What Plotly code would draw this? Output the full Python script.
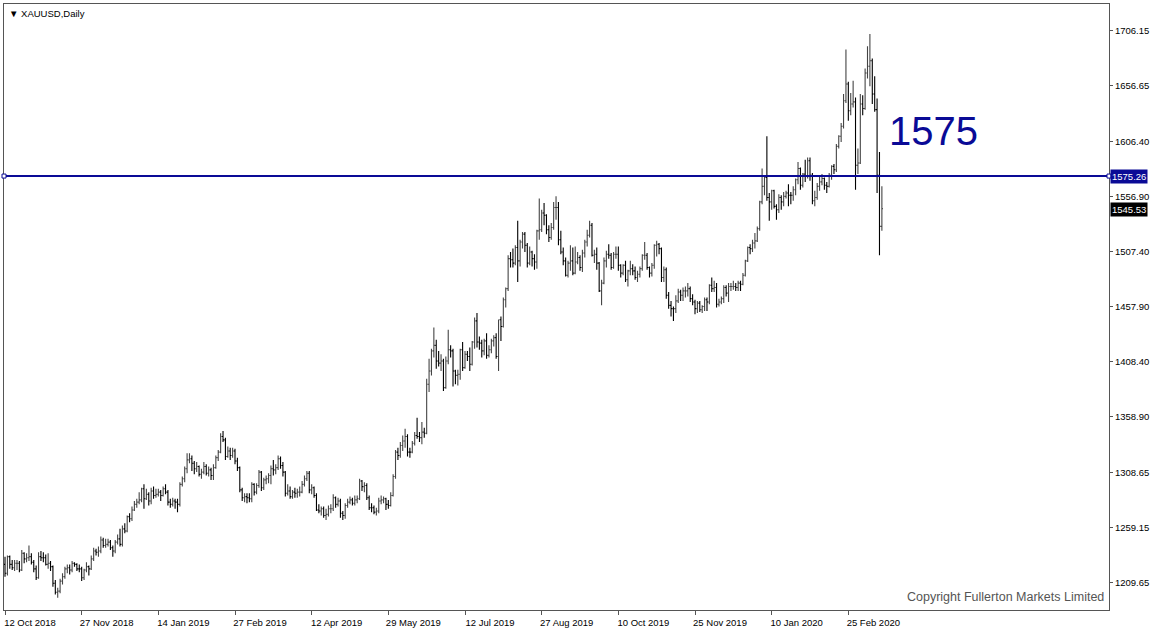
import pandas as pd
import plotly.graph_objects as go

# XAUUSD daily bars, 12 Oct 2018 .. 16 Mar 2020 (no bars on these holidays)
holidays = ["2018-12-25", "2019-01-01", "2019-04-19", "2019-12-25", "2020-01-01"]

open_ = [
    1226, 1218, 1233, 1226, 1223, 1227, 1227, 1221, 1236, 1231, 1232, 1233, 1228, 1222,
    1214, 1233, 1232, 1232, 1226, 1227, 1224, 1209, 1201, 1202, 1211, 1215, 1222, 1223, 1221, 1227, 1226, 1222, 1222, 1214, 1221, 1224,
    1222, 1231, 1238, 1237, 1238, 1248, 1243, 1244, 1246, 1241, 1238, 1246, 1249, 1244, 1258, 1256, 1269, 1267, 1275, 1280,
    1282, 1284, 1294, 1285, 1289, 1283, 1292, 1288, 1289, 1291, 1288, 1294, 1291, 1282, 1280, 1283, 1282, 1280, 1298, 1303, 1312, 1320,
    1321, 1317, 1312, 1314, 1307, 1309, 1314, 1308, 1311, 1306, 1313, 1322, 1327, 1341, 1338, 1323, 1328, 1324, 1328, 1319,
    1313, 1293, 1286, 1287, 1286, 1285, 1298, 1291, 1297, 1309, 1295, 1302, 1303, 1306, 1312, 1311, 1313, 1321, 1315, 1309, 1290,
    1292, 1287, 1291, 1290, 1291, 1291, 1298, 1303, 1308, 1293, 1295, 1288, 1275, 1274, 1276, 1270, 1271, 1276, 1276, 1286, 1280,
    1283, 1272, 1270, 1279, 1282, 1284, 1281, 1284, 1285, 1301, 1296, 1297, 1286, 1277, 1277, 1273, 1274, 1283, 1284, 1285, 1280, 1279, 1288,
    1305, 1327, 1324, 1333, 1337, 1341, 1327, 1327, 1335, 1342, 1341, 1340, 1345, 1344, 1388, 1400, 1418, 1423, 1409, 1407,
    1409, 1385, 1409, 1419, 1418, 1400, 1396, 1397, 1419, 1403, 1415, 1413, 1406, 1426, 1445, 1426, 1425, 1418, 1427, 1414, 1419, 1427, 1430,
    1413, 1446, 1440, 1464, 1474, 1501, 1500, 1497, 1511, 1499, 1516, 1523, 1513, 1497, 1507, 1501, 1498, 1526, 1527, 1542, 1540, 1527,
    1520, 1529, 1547, 1547, 1518, 1507, 1499, 1486, 1497, 1499, 1488, 1498, 1502, 1493, 1506, 1516, 1522, 1531, 1504, 1505, 1497,
    1472, 1479, 1499, 1505, 1504, 1493, 1505, 1505, 1495, 1488, 1495, 1482, 1490, 1492, 1490, 1484, 1487, 1492, 1504, 1504, 1493, 1488, 1495,
    1513, 1514, 1510, 1484, 1491, 1468, 1459, 1456, 1456, 1463, 1471, 1468, 1472, 1472, 1474, 1465, 1462, 1456, 1461, 1455, 1458,
    1464, 1462, 1477, 1474, 1475, 1460, 1462, 1465, 1475, 1470, 1476, 1476, 1476, 1475, 1479, 1478, 1486, 1499, 1511, 1510, 1515,
    1517, 1528, 1552, 1566, 1574, 1556, 1552, 1562, 1548, 1545, 1556, 1552, 1557, 1560, 1558, 1558, 1563, 1572, 1582, 1567, 1577, 1575,
    1589, 1576, 1553, 1556, 1566, 1570, 1573, 1567, 1566, 1576, 1584, 1581, 1602, 1611, 1620, 1643, 1658, 1634, 1640, 1642,
    1585, 1587, 1640, 1636, 1668, 1674, 1679, 1649, 1635, 1576, 1530,
]
high = [
    1233, 1234, 1234, 1230, 1230, 1230, 1229, 1239, 1237, 1236, 1243, 1236, 1230, 1225,
    1237, 1238, 1237, 1235, 1236, 1229, 1225, 1212, 1205, 1213, 1218, 1224, 1226, 1226, 1229, 1228, 1227, 1226, 1224, 1222, 1228, 1225,
    1234, 1241, 1240, 1242, 1251, 1250, 1249, 1249, 1248, 1243, 1248, 1253, 1258, 1261, 1263, 1270, 1272, 1278, 1283, 1285,
    1291, 1295, 1298, 1294, 1291, 1295, 1296, 1294, 1294, 1293, 1296, 1298, 1293, 1285, 1286, 1285, 1285, 1300, 1305, 1314, 1326, 1326,
    1324, 1319, 1318, 1315, 1312, 1318, 1316, 1314, 1313, 1316, 1324, 1329, 1344, 1346, 1340, 1332, 1331, 1331, 1330, 1322,
    1314, 1295, 1290, 1290, 1290, 1300, 1299, 1299, 1311, 1310, 1304, 1306, 1308, 1315, 1320, 1316, 1324, 1323, 1318, 1310, 1298,
    1296, 1293, 1295, 1294, 1296, 1301, 1306, 1310, 1310, 1298, 1296, 1290, 1280, 1278, 1278, 1276, 1279, 1280, 1289, 1287, 1286,
    1285, 1274, 1281, 1285, 1287, 1286, 1288, 1288, 1303, 1302, 1300, 1299, 1288, 1281, 1279, 1277, 1286, 1288, 1287, 1286, 1284, 1291, 1307,
    1329, 1331, 1336, 1342, 1348, 1343, 1331, 1337, 1345, 1358, 1345, 1354, 1349, 1393, 1411, 1420, 1439, 1428, 1418, 1415,
    1411, 1413, 1437, 1423, 1420, 1401, 1401, 1420, 1426, 1418, 1418, 1421, 1427, 1448, 1452, 1431, 1428, 1429, 1434, 1423, 1429, 1432, 1434,
    1446, 1449, 1466, 1475, 1504, 1507, 1510, 1513, 1535, 1518, 1525, 1525, 1515, 1512, 1508, 1505, 1527, 1555, 1545, 1551, 1541, 1531,
    1533, 1552, 1557, 1552, 1526, 1511, 1502, 1499, 1513, 1511, 1512, 1507, 1504, 1509, 1518, 1527, 1535, 1533, 1509, 1511, 1498,
    1482, 1502, 1508, 1514, 1506, 1507, 1512, 1512, 1496, 1496, 1499, 1491, 1499, 1496, 1494, 1490, 1494, 1505, 1516, 1506, 1494, 1497, 1514,
    1517, 1515, 1511, 1494, 1493, 1471, 1463, 1458, 1468, 1474, 1473, 1475, 1476, 1479, 1476, 1469, 1464, 1463, 1463, 1459, 1466,
    1466, 1478, 1484, 1481, 1479, 1465, 1467, 1477, 1477, 1479, 1479, 1481, 1479, 1481, 1481, 1488, 1500, 1512, 1514, 1518, 1524,
    1530, 1553, 1582, 1576, 1611, 1560, 1563, 1563, 1550, 1559, 1558, 1561, 1562, 1568, 1561, 1566, 1573, 1588, 1583, 1578, 1590, 1592,
    1592, 1578, 1562, 1569, 1575, 1577, 1574, 1570, 1578, 1585, 1586, 1604, 1612, 1623, 1649, 1689, 1660, 1650, 1661, 1646,
    1600, 1649, 1648, 1672, 1692, 1703, 1681, 1665, 1645, 1597, 1566,
]
low = [
    1215, 1216, 1222, 1221, 1220, 1221, 1219, 1220, 1227, 1228, 1229, 1226, 1219, 1212,
    1213, 1229, 1228, 1225, 1222, 1220, 1206, 1199, 1196, 1200, 1208, 1213, 1218, 1217, 1219, 1224, 1220, 1219, 1211, 1212, 1219, 1216,
    1221, 1229, 1234, 1233, 1236, 1241, 1241, 1242, 1239, 1233, 1236, 1244, 1242, 1242, 1254, 1255, 1264, 1265, 1274, 1277,
    1280, 1282, 1276, 1284, 1279, 1280, 1285, 1286, 1287, 1283, 1287, 1289, 1279, 1277, 1278, 1276, 1273, 1278, 1296, 1300, 1308, 1317,
    1310, 1307, 1309, 1305, 1303, 1307, 1306, 1305, 1302, 1302, 1312, 1319, 1326, 1336, 1320, 1322, 1320, 1322, 1316, 1310,
    1291, 1283, 1282, 1281, 1282, 1282, 1288, 1289, 1295, 1292, 1293, 1298, 1299, 1298, 1306, 1307, 1311, 1312, 1305, 1287, 1288,
    1285, 1285, 1286, 1286, 1287, 1290, 1296, 1301, 1290, 1289, 1286, 1274, 1272, 1270, 1268, 1266, 1269, 1272, 1274, 1277, 1278,
    1268, 1266, 1267, 1277, 1280, 1279, 1279, 1281, 1284, 1292, 1291, 1284, 1275, 1273, 1271, 1270, 1272, 1280, 1281, 1275, 1276, 1278, 1287,
    1303, 1320, 1322, 1328, 1331, 1323, 1322, 1326, 1333, 1339, 1336, 1334, 1340, 1343, 1381, 1396, 1412, 1402, 1404, 1400,
    1382, 1384, 1406, 1412, 1386, 1388, 1387, 1392, 1400, 1402, 1409, 1400, 1405, 1420, 1421, 1419, 1412, 1414, 1411, 1412, 1416, 1422, 1411,
    1400, 1427, 1439, 1457, 1472, 1493, 1493, 1495, 1480, 1494, 1510, 1507, 1493, 1495, 1494, 1491, 1492, 1518, 1525, 1531, 1523, 1516,
    1518, 1527, 1536, 1513, 1505, 1495, 1485, 1484, 1490, 1486, 1487, 1496, 1490, 1489, 1502, 1512, 1520, 1503, 1497, 1491, 1471,
    1459, 1478, 1493, 1501, 1491, 1492, 1501, 1490, 1484, 1486, 1480, 1476, 1486, 1486, 1482, 1480, 1484, 1490, 1500, 1491, 1484, 1485, 1492,
    1503, 1505, 1480, 1480, 1465, 1456, 1449, 1445, 1452, 1461, 1463, 1463, 1466, 1467, 1462, 1459, 1451, 1452, 1453, 1452, 1454,
    1454, 1460, 1471, 1471, 1457, 1458, 1460, 1461, 1467, 1462, 1472, 1473, 1472, 1472, 1472, 1477, 1485, 1498, 1505, 1507, 1510,
    1516, 1526, 1550, 1558, 1553, 1535, 1545, 1546, 1536, 1542, 1545, 1548, 1555, 1548, 1550, 1553, 1558, 1568, 1563, 1565, 1570, 1573,
    1571, 1550, 1548, 1554, 1562, 1567, 1563, 1560, 1565, 1572, 1577, 1579, 1600, 1606, 1618, 1641, 1625, 1630, 1637, 1563,
    1577, 1586, 1630, 1635, 1663, 1656, 1640, 1633, 1560, 1504, 1526,
]
close = [
    1218, 1233, 1226, 1223, 1227, 1227, 1221, 1236, 1231, 1232, 1233, 1228, 1222, 1214,
    1233, 1232, 1232, 1226, 1227, 1224, 1209, 1201, 1202, 1211, 1215, 1222, 1223, 1221, 1227, 1226, 1222, 1222, 1214, 1221, 1224, 1222,
    1231, 1238, 1237, 1238, 1248, 1243, 1244, 1246, 1241, 1238, 1246, 1249, 1244, 1258, 1256, 1269, 1267, 1275, 1280, 1282,
    1284, 1294, 1285, 1289, 1283, 1292, 1288, 1289, 1291, 1288, 1294, 1291, 1282, 1280, 1283, 1282, 1280, 1298, 1303, 1312, 1320, 1321,
    1317, 1312, 1314, 1307, 1309, 1314, 1308, 1311, 1306, 1313, 1322, 1327, 1341, 1338, 1323, 1328, 1324, 1328, 1319, 1313,
    1293, 1286, 1287, 1286, 1285, 1298, 1291, 1297, 1309, 1295, 1302, 1303, 1306, 1312, 1311, 1313, 1321, 1315, 1309, 1290, 1292,
    1287, 1291, 1290, 1291, 1291, 1298, 1303, 1308, 1293, 1295, 1288, 1275, 1274, 1276, 1270, 1271, 1276, 1276, 1286, 1280, 1283,
    1272, 1270, 1279, 1282, 1284, 1281, 1284, 1285, 1301, 1296, 1297, 1286, 1277, 1277, 1273, 1274, 1283, 1284, 1285, 1280, 1279, 1288, 1305,
    1327, 1324, 1333, 1337, 1341, 1327, 1327, 1335, 1342, 1341, 1340, 1345, 1344, 1388, 1400, 1418, 1423, 1409, 1407, 1409,
    1385, 1409, 1419, 1418, 1400, 1396, 1397, 1419, 1403, 1415, 1413, 1406, 1426, 1445, 1426, 1425, 1418, 1427, 1414, 1419, 1427, 1430, 1413,
    1446, 1440, 1464, 1474, 1501, 1500, 1497, 1511, 1499, 1516, 1523, 1513, 1497, 1507, 1501, 1498, 1526, 1527, 1542, 1540, 1527, 1520,
    1529, 1547, 1547, 1518, 1507, 1499, 1486, 1497, 1499, 1488, 1498, 1502, 1493, 1506, 1516, 1522, 1531, 1504, 1505, 1497, 1472,
    1479, 1499, 1505, 1504, 1493, 1505, 1505, 1495, 1488, 1495, 1482, 1490, 1492, 1490, 1484, 1487, 1492, 1504, 1504, 1493, 1488, 1495, 1513,
    1514, 1510, 1484, 1491, 1468, 1459, 1456, 1456, 1463, 1471, 1468, 1472, 1472, 1474, 1465, 1462, 1456, 1461, 1455, 1458, 1464,
    1462, 1477, 1474, 1475, 1460, 1462, 1465, 1475, 1470, 1476, 1476, 1476, 1475, 1479, 1478, 1486, 1499, 1511, 1510, 1515, 1517,
    1528, 1552, 1566, 1574, 1556, 1552, 1562, 1548, 1545, 1556, 1552, 1557, 1560, 1558, 1558, 1563, 1572, 1582, 1567, 1577, 1575, 1589,
    1576, 1553, 1556, 1566, 1570, 1573, 1567, 1566, 1576, 1584, 1581, 1602, 1611, 1620, 1643, 1658, 1634, 1640, 1642, 1585,
    1587, 1640, 1636, 1668, 1674, 1679, 1649, 1635, 1576, 1530, 1546,
]

# x-axis labels (every 32 bars) and right price scale
tick_dates = ["2018-10-12", "2018-11-27", "2019-01-14", "2019-02-27", "2019-04-12", "2019-05-29",
              "2019-07-12", "2019-08-27", "2019-10-10", "2019-11-25", "2020-01-10", "2020-02-25"]
tick_labels = ["12 Oct 2018", "27 Nov 2018", "14 Jan 2019", "27 Feb 2019", "12 Apr 2019", "29 May 2019",
               "12 Jul 2019", "27 Aug 2019", "10 Oct 2019", "25 Nov 2019", "10 Jan 2020", "25 Feb 2020"]
price_ticks = [1706.15, 1656.65, 1606.40, 1556.90, 1507.40, 1457.90, 1408.40, 1358.90, 1308.65, 1259.15, 1209.65]
level = 1575.26
last_price = 1545.53

days = pd.bdate_range("2018-10-12", "2020-03-16")
days = days[~days.isin(pd.to_datetime(holidays))]
dates = [d.strftime("%Y-%m-%d") for d in days]
assert len(dates) == len(open_) == len(high) == len(low) == len(close), (
    len(dates), len(open_), len(high), len(low), len(close))

FONT = "Liberation Sans, Arial, sans-serif"
NAVY = "#0a0a96"
FRAME = "#555555"

fig = go.Figure()
fig.add_trace(
    go.Ohlc(
        x=dates,
        open=open_,
        high=high,
        low=low,
        close=close,
        increasing_line_color="#454545",
        decreasing_line_color="#000000",
        line_width=1.1,
        tickwidth=0.45,
        hoverinfo="skip",
        showlegend=False,
    )
)

# support / resistance level
fig.add_shape(type="line", xref="paper", x0=0, x1=1, yref="y", y0=level, y1=level,
              line=dict(color=NAVY, width=2))
for px in (0, 1):
    fig.add_shape(type="rect", xref="paper", xsizemode="pixel", xanchor=px, x0=-2, x1=2,
                  yref="y", ysizemode="pixel", yanchor=level, y0=-2, y1=2,
                  line=dict(color=NAVY, width=1), fillcolor="white")

fig.add_annotation(text="1575", xref="paper", x=0.799, yref="y", y=1616,
                   xanchor="left", yanchor="middle", showarrow=False,
                   font=dict(family=FONT, size=40, color=NAVY))
fig.add_annotation(text="▼ XAUUSD,Daily", xref="paper", yref="paper", x=0, y=1,
                   xanchor="left", yanchor="top", xshift=3, yshift=-2, showarrow=False,
                   font=dict(family=FONT, size=9.5, color="black"))
fig.add_annotation(text="Copyright Fullerton Markets Limited", xref="paper", yref="paper",
                   x=1, y=0, xanchor="right", yanchor="bottom", xshift=-3, yshift=4,
                   showarrow=False, font=dict(family=FONT, size=12.5, color="#555555"))
fig.add_annotation(text=f"{level:.2f}", xref="paper", x=1, yref="y", y=level, xanchor="left",
                   xshift=1, showarrow=False, bgcolor=NAVY, borderpad=1,
                   font=dict(family=FONT, size=9.5, color="white"))
fig.add_annotation(text=f"{last_price:.2f}", xref="paper", x=1, yref="y", y=last_price,
                   xanchor="left", xshift=1, showarrow=False, bgcolor="black", borderpad=1,
                   font=dict(family=FONT, size=9.5, color="white"))

fig.update_layout(
    width=1152,
    height=629,
    autosize=False,
    paper_bgcolor="white",
    plot_bgcolor="white",
    margin=dict(l=4, r=43, t=4, b=19, pad=0),
    font=dict(family=FONT, size=9.5, color="black"),
    xaxis=dict(
        type="category",
        range=[-0.42, 460.8],
        tickvals=tick_dates,
        ticktext=tick_labels,
        ticks="outside",
        ticklen=4,
        tickcolor=FRAME,
        ticklabelshift=25,
        ticklabelstandoff=0,
        automargin=False,
        showline=True,
        mirror=True,
        linecolor=FRAME,
        showgrid=False,
        rangeslider=dict(visible=False),
        tickfont=dict(family=FONT, size=9.5),
    ),
    yaxis=dict(
        side="right",
        range=[1185, 1730],
        tickvals=price_ticks,
        ticktext=[f"{v:.2f}" for v in price_ticks],
        ticks="outside",
        ticklen=3,
        tickcolor=FRAME,
        automargin=False,
        showline=True,
        mirror=True,
        linecolor=FRAME,
        showgrid=False,
        zeroline=False,
        tickfont=dict(family=FONT, size=9.5),
    ),
)

# drop the default page margin so the 1152x629 figure fills the window exactly
fig.write_html(
    "out.html",
    config={"displayModeBar": False},
    post_script="document.body.style.margin='0';document.body.style.overflow='hidden';",
)
